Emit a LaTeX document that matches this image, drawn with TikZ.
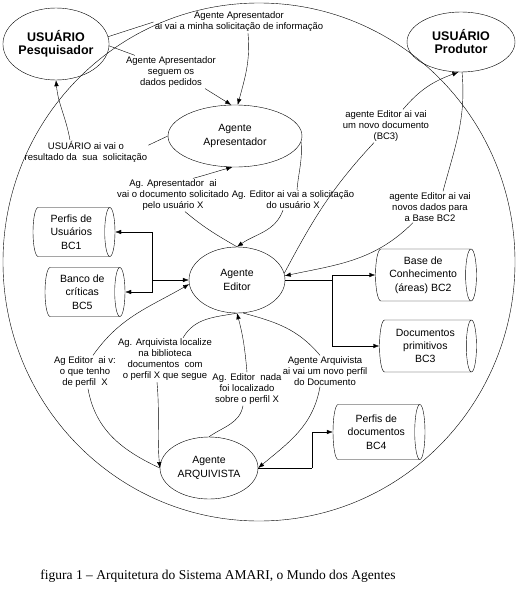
\documentclass[tikz,border=0pt]{standalone}
\usepackage{fontspec}
\setmainfont{Liberation Sans}
\newfontfamily\serifa{Liberation Serif}
\usetikzlibrary{shapes.geometric, arrows.meta}
\newcommand{\banco}[5]{
\node[base, minimum height=#3, minimum width=#4] (#1) at (#2) {#5};
}
\tikzset{
agente/.style={draw, ellipse, align=center, inner sep=0pt, font=\fontsize{10.5}{13.5}\selectfont},
usuario/.style={agente, font=\bfseries\fontsize{12.5}{13}\selectfont},
base/.style={draw, cylinder, shape border rotate=0, aspect=0.3, anchor=shape center, align=center, inner sep=0pt, font=\fontsize{10.5}{13.3}\selectfont},
msg/.style={align=center, inner sep=1pt, font=\fontsize{9.5}{11}\selectfont},
seta/.style={-{Latex[length=6pt, width=4.5pt]}}
}

\begin{document}
\begin{tikzpicture}[x=1pt, y=1pt]
\useasboundingbox (0,0) rectangle (517,-610);

\draw (259,-262) ellipse [x radius=256, y radius=259];

\node[usuario, minimum width=106, minimum height=72] (pesq) at (56,-44) {USUÁRIO\\Pesquisador};
\node[usuario, minimum width=108, minimum height=60] (prod) at (461,-42) {USUÁRIO\\Produtor};
\node[agente, minimum width=134, minimum height=62] (apres) at (235,-136) {Agente\\Apresentador};
\node[agente, minimum width=96, minimum height=66] (editor) at (237,-280) {Agente\\Editor};
\node[agente, minimum width=98, minimum height=62] (arq) at (209,-468) {Agente\\ARQUIVISTA};

\banco{bc1}{74,-232}{82}{49}{Perfis de\\Usuários\\BC1}
\banco{bc5}{85,-292}{80}{49}{Banco de\\críticas\\BC5}
\banco{bc2}{426,-275}{101}{52}{Base de\\Conhecimento\\(áreas) BC2}
\banco{bc3}{428,-346}{97}{52}{Documentos\\primitivos\\BC3}
\banco{bc4}{379,-432}{92}{55}{Perfis de\\documentos\\BC4}

\node[msg] (lPedido) at (239,-22) {Agente Apresentador\\ai vai a minha solicitação de informação};
\node[msg] (lDados) at (171,-72) {Agente Apresentador\\seguem os\\dados pedidos};
\node[msg] (lResultado) at (86,-152) {USUÁRIO ai vai o\\resultado da~~sua~~solicitação};
\node[msg] (lDocumento) at (173,-195) {Ag. Apresentador~~ai\\vai o documento solicitado\\pelo usuário X};
\node[msg] (lSolicita) at (293,-200) {Ag. Editor ai vai a solicitação\\do usuário X};
\node[msg] (lNovoDoc) at (386,-126) {agente Editor ai vai\\um novo documento\\(BC3)};
\node[msg] (lNovosDados) at (430,-207) {agente Editor ai vai\\novos dados para\\a Base BC2};
\node[msg] (lTenho) at (85,-372) {Ag Editor~~ai v:\\o que tenho\\de perfil~~X};
\node[msg] (lLocalize) at (165,-360) {Ag. Arquivista localize\\na biblioteca\\documentos~~com\\o perfil X que segue};
\node[msg] (lNada) at (247,-389) {Ag. Editor~~nada\\foi localizado\\sobre o perfil X};
\node[msg] (lPerfil) at (325,-371) {Agente Arquivista\\ai vai um novo perfil\\do Documento};

\draw (pesq.8) -- (lPedido.west);
\draw[seta] ([xshift=9pt]lPedido.south) to[out=-85,in=75] (apres.85);
\draw (pesq.-2) -- ([xshift=10pt]lDados.north west);
\draw[seta] ([xshift=-12pt]lDados.south east) -- (apres.97);
\draw (apres.west) -- ([yshift=-5pt]lResultado.north east);
\draw[seta] ([xshift=-16pt]lResultado.north) to[out=100,in=-85] (pesq.south);

\draw (editor.north) to[out=150,in=-40] ([xshift=12pt]lDocumento.south);
\draw[seta] ([xshift=20pt]lDocumento.north) to[out=15,in=-165] (apres.265);
\draw (apres.-5) to[out=-85,in=85] ([xshift=4pt]lSolicita.north);
\draw[seta] ([xshift=-10pt]lSolicita.south) to[out=-110,in=35] (editor.north);

\draw (editor.8) to[out=62,in=-133] ([xshift=-12pt]lNovoDoc.south);
\draw[seta] ([xshift=17pt]lNovoDoc.north) to[out=50,in=-160] (prod.265);
\draw (prod.-88) to[out=-85,in=75] ([xshift=13pt]lNovosDados.north);
\draw[seta] ([xshift=-17pt]lNovosDados.south) to[out=-135,in=12] (editor.5);

\coordinate (jR) at (332,-280);
\coordinate (jL) at (152,-280);
\draw (editor.east) -- (jR);
\draw[seta] (jR) |- (bc2.west);
\draw[seta] (jR) |- (bc3.west);
\draw[seta] (jL) -- (editor.west);
\draw[seta] (jL) |- (bc1.east);
\draw[seta] (jL) |- (bc5.east);

\draw[seta] ([xshift=8pt]lTenho.north) to[out=55,in=-150] (editor.185);
\draw (arq.west) to[out=155,in=-80] ([xshift=3pt]lTenho.south);
\draw (editor.south) to[out=-170,in=60] ([xshift=18pt]lLocalize.north);
\draw[seta] ([xshift=-8pt]lLocalize.south) to[out=-85,in=95] (arq.west);
\draw (arq.north) to[out=35,in=-100] ([xshift=-4pt]lNada.south);
\draw[seta] (lNada.north) to[out=95,in=-75] (editor.south);
\draw (editor.-80) to[out=-15,in=130] ([xshift=-5pt]lPerfil.north);
\draw[seta] ([xshift=-5pt]lPerfil.south) to[out=-100,in=40] (arq.east);

\coordinate (jA) at (312,-468);
\draw (arq.east) -- (jA);
\draw[seta] (jA) |- (bc4.west);

\node[font=\serifa\fontsize{13.5}{16}\selectfont] (legenda) at (218,-576) {figura 1 – Arquitetura do Sistema AMARI, o Mundo dos Agentes};

\end{tikzpicture}
\end{document}
